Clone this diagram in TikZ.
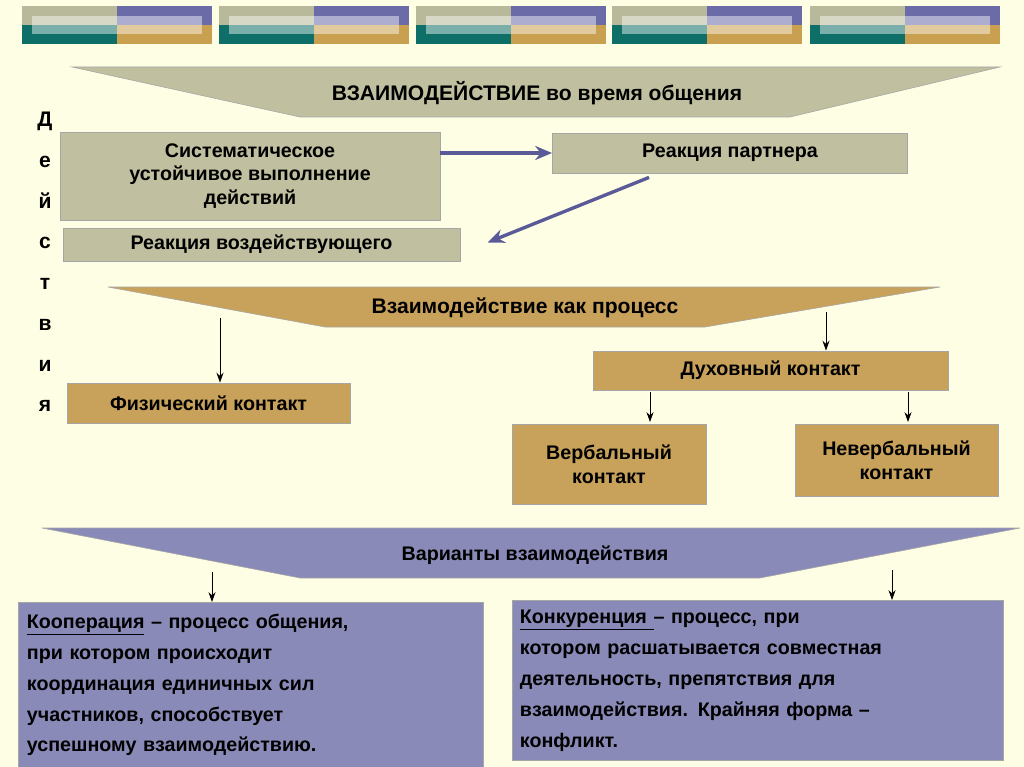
\documentclass[tikz,border=0pt]{standalone}
\usepackage{fontspec}
\setmainfont{Liberation Sans}
\usetikzlibrary{arrows.meta,calc}
\definecolor{bgyel}{HTML}{FEFEE4}
\definecolor{khaki}{HTML}{C0C0A0}
\definecolor{gold}{HTML}{C8A25A}
\definecolor{lilac}{HTML}{8A8AB8}
\definecolor{arrpurp}{HTML}{5A5A98}
\definecolor{dkpurp}{HTML}{6B6BA8}
\definecolor{teal}{HTML}{0E6E68}
\definecolor{ochre}{HTML}{C8A050}
\definecolor{olive}{HTML}{B8B89A}
\tikzset{
  box/.style={draw=gray!70, line width=0.6pt, font=\fontsize{14}{17}\selectfont\bfseries, align=center, inner sep=2pt},
  kbox/.style={box, fill=khaki},
  gbox/.style={box, fill=gold},
  pbox/.style={box, fill=lilac},
  thinarr/.style={-{Stealth[length=7pt,width=5pt]}, line width=0.6pt},
  fatarr/.style={-{Stealth[length=12pt,width=10pt]}, arrpurp, line width=2.4pt},
}
\newcommand{\decoblock}[1]{%
  \fill[olive] (#1,6) rectangle ++(95,19);
  \fill[dkpurp] (#1+95,6) rectangle ++(95,19);
  \fill[teal] (#1,25) rectangle ++(95,19);
  \fill[ochre] (#1+95,25) rectangle ++(95,19);
  \fill[white, opacity=0.45] (#1+10,16) rectangle (#1+180,34);
}
\begin{document}
\begin{tikzpicture}[x=0.025cm, y=-0.025cm]
  \fill[bgyel] (0,0) rectangle (1024,767);
  \useasboundingbox (0,0) rectangle (1024,767);

  % decorative strip
  \foreach \x in {22,219,416,612,810} {\decoblock{\x}}

  % banners
  \draw[fill=khaki, draw=gray!70] (72,67) -- (1000,67) -- (790,117) -- (300,117) -- cycle;
  \node[font=\fontsize{15}{18}\selectfont\bfseries] (title) at (537,93) {ВЗАИМОДЕЙСТВИЕ во время общения};
  \draw[fill=gold, draw=gray!70] (108,287) -- (940,287) -- (705,327) -- (325,327) -- cycle;
  \node[font=\fontsize{15}{18}\selectfont\bfseries] (proc) at (525,308) {Взаимодействие как процесс};
  \draw[fill=lilac, draw=gray!70] (42,528) -- (1020,528) -- (760,578) -- (300,578) -- cycle;
  \node[font=\fontsize{14}{17}\selectfont\bfseries] (var) at (535,555) {Варианты взаимодействия};

  % vertical word
  \node[font=\fontsize{15}{29}\selectfont\bfseries, align=center, anchor=north] (deis) at (45,107)
    {Д\\е\\й\\с\\т\\в\\и\\я};

  % khaki boxes
  \node[kbox, minimum width=9.5cm, minimum height=2.2cm] (sys) at (250,176)
    {Систематическое\\устойчивое выполнение\\действий};
  \node[kbox, minimum width=8.875cm, minimum height=1cm] (reac) at (730,153) {Реакция партнера};
  \node[kbox, minimum width=9.925cm, minimum height=0.825cm] (vozd) at (261.5,244.5) {Реакция воздействующего};
  \draw[fatarr] (sys.east |- reac.west) -- (reac.west);
  \draw[fatarr] ($(reac.south west)+(97,4)$) -- ($(vozd.east)+(27,-2)$);

  % gold boxes
  \node[gbox, minimum width=7.075cm, minimum height=1cm] (fiz) at (208.5,403) {Физический контакт};
  \node[gbox, minimum width=8.875cm, minimum height=0.975cm] (duh) at (770.5,370.5) {Духовный контакт};
  \node[gbox, minimum width=4.85cm, minimum height=2cm] (verb) at (609,464) {Вербальный\\контакт};
  \node[gbox, minimum width=5.075cm, minimum height=1.8cm] (nverb) at (896.5,460) {Невербальный\\контакт};
  \coordinate (p1) at (220,318);
  \coordinate (p2) at (826,312);
  \draw[thinarr] (p1) -- (p1 |- fiz.north);
  \draw[thinarr] (p2) -- (p2 |- duh.north);
  \draw[thinarr] (650,392) -- (650,422);
  \draw[thinarr] (908,392) -- (908,422);

  % purple boxes
  \node[pbox, minimum width=11.625cm, minimum height=4.125cm, align=left, anchor=north west,
        text width=11.2cm, font=\fontsize{14}{22}\selectfont\bfseries] (koop) at (18,602)
    {\raisebox{0pt}{}\underline{Кооперация} -- процесс общения,\\
     при котором происходит\\
     координация единичных сил\\
     участников, способствует\\
     успешному взаимодействию.};
  \node[pbox, minimum width=12.275cm, minimum height=4cm, align=left, anchor=north west,
        text width=11.9cm, font=\fontsize{14}{22}\selectfont\bfseries] (konk) at (512,600)
    {\underline{Конкуренция }-- процесс, при\\
     котором расшатывается совместная\\
     деятельность, препятствия для\\
     взаимодействия. Крайняя форма --\\
     конфликт.};
  \coordinate (p3) at (212,572);
  \coordinate (p4) at (892,570);
  \draw[thinarr] (p3) -- (p3 |- koop.north);
  \draw[thinarr] (p4) -- (p4 |- konk.north);
\end{tikzpicture}
\end{document}
